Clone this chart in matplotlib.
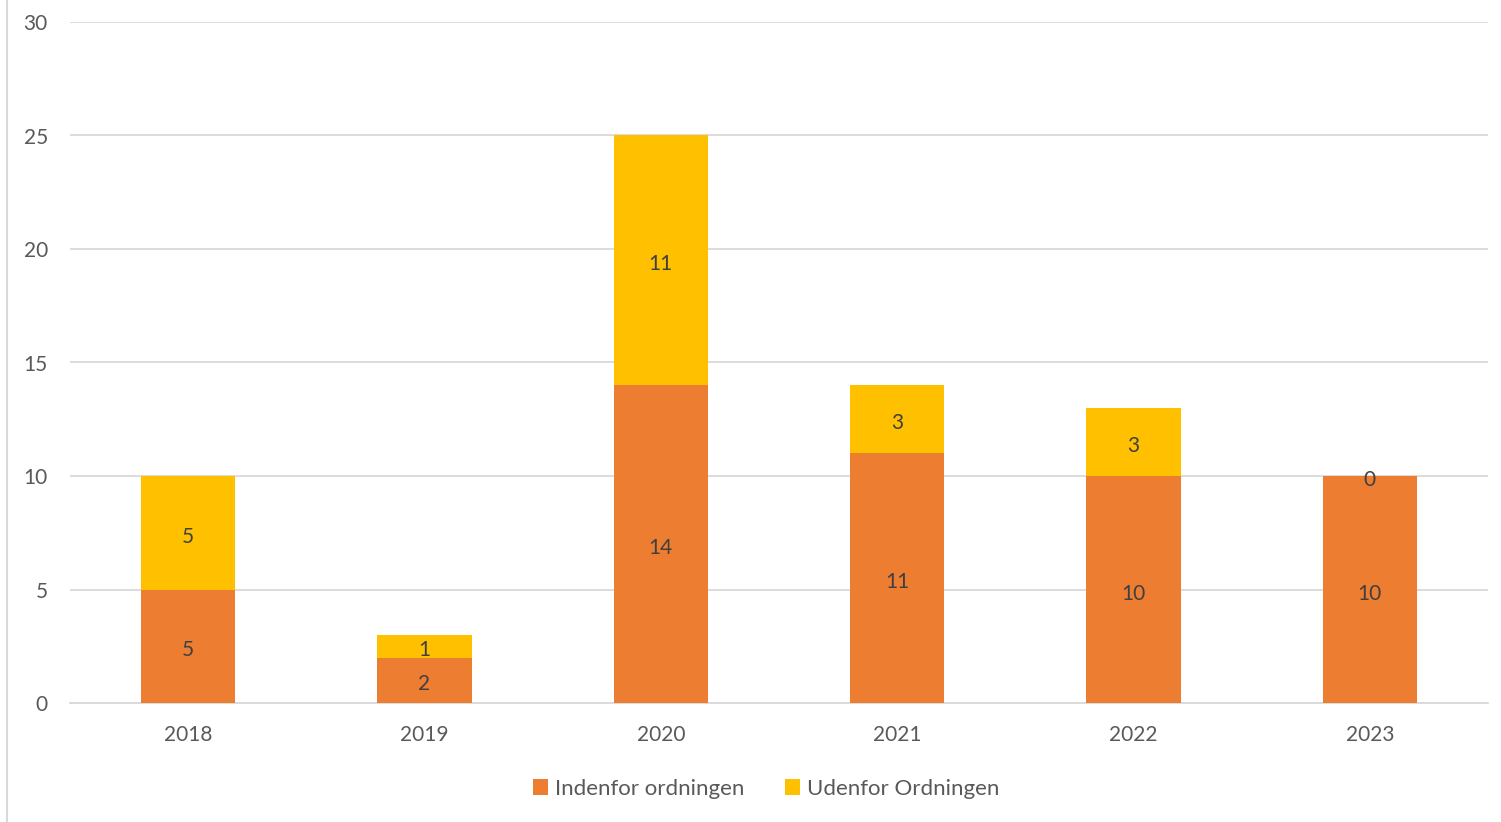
import matplotlib.pyplot as plt
from matplotlib.lines import Line2D
import numpy as np

plt.rcParams['font.family'] = ['Lato', 'DejaVu Sans']

years = ['2018', '2019', '2020', '2021', '2022', '2023']
indenfor = [5, 2, 14, 11, 10, 10]
udenfor = [5, 1, 11, 3, 3, 0]
yticks = [0, 5, 10, 15, 20, 25, 30]

orange = '#ED7D31'
gold = '#FFC000'
txt = '#595959'
grid = '#D9D9D9'

fig = plt.figure(figsize=(15.01, 8.22), dpi=100)
ax = fig.add_axes([70/1501, 1-703/822, 1418/1501, 681/822])

x = np.arange(len(years))
b1 = ax.bar(x, indenfor, width=0.4, color=orange, label='Indenfor ordningen', zorder=3)
b2 = ax.bar(x, udenfor, width=0.4, bottom=indenfor, color=gold, label='Udenfor Ordningen', zorder=3)

# value labels in the middle of each segment
for i in range(len(years)):
    ax.annotate(str(indenfor[i]), (x[i], indenfor[i]/2), xytext=(0, -2), textcoords='offset pixels',
                ha='center', va='center_baseline', fontsize=15, color='#404040', zorder=4)
    ax.annotate(str(udenfor[i]), (x[i], indenfor[i] + udenfor[i]/2), xytext=(0, -2), textcoords='offset pixels',
                ha='center', va='center_baseline', fontsize=15, color='#404040', zorder=4)

ax.set_xlim(-0.5, len(years) - 0.5)
ax.set_ylim(0, 30)
ax.set_yticks(yticks)
ax.set_xticks(x)
ax.set_xticklabels(years)
ax.tick_params(axis='both', length=0, labelsize=15, labelcolor=txt)
ax.tick_params(axis='y', pad=16)
ax.tick_params(axis='x', pad=16)
ax.yaxis.grid(True, color=grid, linewidth=1.3, zorder=0)
for s in ['top', 'right', 'left']:
    ax.spines[s].set_visible(False)
ax.spines['bottom'].set_color(grid)
ax.spines['bottom'].set_linewidth(1.3)

leg = fig.legend(loc='center', bbox_to_anchor=(766/1501, 1-789/822), ncol=2, frameon=False,
                 fontsize=16, handlelength=0.7, handleheight=0.7, handletextpad=0.3,
                 columnspacing=1.8)
for t in leg.get_texts():
    t.set_color(txt)

fig.add_artist(Line2D([7/1501, 7/1501], [0, 1], color=grid, linewidth=1.5))

fig.savefig('out.png', dpi=100)
